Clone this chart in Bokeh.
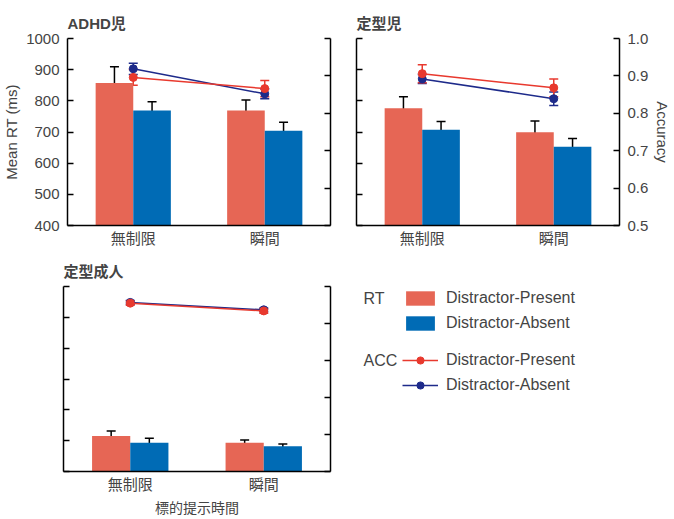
from bokeh.plotting import figure
from bokeh.models import (FactorRange, Range1d, LinearAxis, FixedTicker, Whisker,
                          ColumnDataSource, Legend, LegendItem, Label, TeeHead,
                          NumeralTickFormatter)
from bokeh.layouts import column, row
from bokeh.transform import dodge
from bokeh.embed import file_html
from bokeh.resources import INLINE

# ---------------- data ----------------
conditions = ["無制限", "瞬間"]
panels = ["ADHD児", "定型児", "定型成人"]

rt_present = [[857, 769], [776, 699], [515, 493]]
rt_present_err = [[52, 34], [37, 36], [16, 9]]
rt_absent = [[769, 704], [707, 653], [493, 482]]
rt_absent_err = [[28, 27], [27, 26], [15, 7]]

acc_present = [[0.896, 0.866], [0.906, 0.868], [0.955, 0.934]]
acc_present_err = [[0.021, 0.022], [0.024, 0.024], [0.006, 0.006]]
acc_absent = [[0.919, 0.852], [0.892, 0.839], [0.957, 0.937]]
acc_absent_err = [[0.015, 0.013], [0.012, 0.018], [0.005, 0.005]]

rt_ticks = [400, 500, 600, 700, 800, 900, 1000]
acc_ticks = [0.5, 0.6, 0.7, 0.8, 0.9, 1.0]

legend_labels = ["Distractor-Present", "Distractor-Absent"]
legend_groups = ["RT", "ACC"]

# ---------------- style ----------------
BAR_P = "#E66655"
BAR_A = "#006BB5"
ACC_P = "#E8392E"
ACC_A = "#1D2A8A"
LATIN = "Liberation Sans"
CJK = "Noto Sans CJK JP"
MIX = "Liberation Sans, Noto Sans CJK JP"
FS = "15px"


def style_axis(ax, show_labels=True):
    ax.axis_line_width = 1.5
    ax.axis_line_color = "black"
    ax.major_tick_in = 6
    ax.major_tick_out = 0
    ax.major_tick_line_width = 1.5
    ax.minor_tick_line_color = None
    ax.major_label_text_font = LATIN
    ax.major_label_text_font_size = FS
    ax.major_label_standoff = 8
    ax.axis_label_text_font = LATIN
    ax.axis_label_text_font_size = FS
    ax.axis_label_text_font_style = "normal"
    ax.axis_label_standoff = 3
    if not show_labels:
        ax.major_label_text_color = None
        ax.major_label_text_font_size = "1px"
        ax.major_label_standoff = 0


def make_panel(i, width, height, bl, br, bt, bb, left_labels, right_labels,
               left_title=None, right_title=None, x_title=None):
    p = figure(x_range=FactorRange(*conditions), y_range=Range1d(400, 1000),
               width=width, height=height, output_backend="svg",
               toolbar_location=None, title=panels[i],
               min_border_left=bl, min_border_right=br,
               min_border_top=bt, min_border_bottom=bb)
    p.x_range.range_padding = 0
    p.extra_y_ranges = {"acc": Range1d(0.5, 1.0)}
    p.grid.visible = False
    p.outline_line_color = None
    p.title.text_font = MIX
    p.title.text_font_size = FS
    p.title.text_font_style = "bold"
    p.title.align = "left"
    p.title.standoff = 14

    src = ColumnDataSource(dict(
        x=conditions,
        rp=rt_present[i], rp_up=[m + e for m, e in zip(rt_present[i], rt_present_err[i])],
        rp_lo=[m - e for m, e in zip(rt_present[i], rt_present_err[i])],
        ra=rt_absent[i], ra_up=[m + e for m, e in zip(rt_absent[i], rt_absent_err[i])],
        ra_lo=[m - e for m, e in zip(rt_absent[i], rt_absent_err[i])],
        ap=acc_present[i], ap_up=[m + e for m, e in zip(acc_present[i], acc_present_err[i])],
        ap_lo=[m - e for m, e in zip(acc_present[i], acc_present_err[i])],
        aa=acc_absent[i], aa_up=[m + e for m, e in zip(acc_absent[i], acc_absent_err[i])],
        aa_lo=[m - e for m, e in zip(acc_absent[i], acc_absent_err[i])],
    ))

    off = 0.143
    bw = 0.286
    p.vbar(x=dodge("x", -off, range=p.x_range), top="rp", bottom=0, width=bw,
           source=src, fill_color=BAR_P, line_color=None)
    p.vbar(x=dodge("x", off, range=p.x_range), top="ra", bottom=0, width=bw,
           source=src, fill_color=BAR_A, line_color=None)
    for o, up, lo in [(-off, "rp_up", "rp_lo"), (off, "ra_up", "ra_lo")]:
        p.add_layout(Whisker(source=src, base=dodge("x", o, range=p.x_range),
                             upper=up, lower=lo, line_color="black", line_width=1.5,
                             upper_head=TeeHead(size=9, line_width=1.5, line_color="black"),
                             lower_head=TeeHead(size=9, line_width=1.5, line_color="black")))

    for col, c in [("aa", ACC_A), ("ap", ACC_P)]:
        p.add_layout(Whisker(source=src, base="x", upper=col + "_up", lower=col + "_lo",
                             y_range_name="acc", line_color=c, line_width=1.5,
                             upper_head=TeeHead(size=9, line_width=1.5, line_color=c),
                             lower_head=TeeHead(size=9, line_width=1.5, line_color=c)))
        p.line(x="x", y=col, source=src, y_range_name="acc", line_color=c, line_width=1.5)
        p.scatter(x="x", y=col, source=src, y_range_name="acc", size=8,
                  fill_color=c, line_color=c)

    p.yaxis.ticker = FixedTicker(ticks=rt_ticks)
    style_axis(p.yaxis[0], left_labels)
    if left_title:
        p.yaxis.axis_label = left_title

    ra = LinearAxis(y_range_name="acc", ticker=FixedTicker(ticks=acc_ticks),
                    formatter=NumeralTickFormatter(format="0.0"))
    style_axis(ra, right_labels)
    if right_title:
        ra.axis_label = right_title
    p.add_layout(ra, "right")

    xa = p.xaxis[0]
    style_axis(xa, True)
    xa.major_tick_line_color = None
    xa.major_label_text_font = CJK
    xa.major_label_standoff = 1
    if x_title:
        xa.axis_label = x_title
        xa.axis_label_text_font = CJK
        xa.axis_label_text_font_size = "14px"
        xa.axis_label_standoff = 0
    return p


TOP1, BOT1 = 38, 26
H1 = TOP1 + 187 + BOT1          # 251
TOP2, BOT2 = 35, 47
H2 = 519 - H1                   # 268

p1 = make_panel(0, 340, H1, 63, 10, TOP1, BOT1, True, False, left_title="Mean RT (ms)")
p2 = make_panel(1, 334, H1, 16, 50, TOP1, BOT1, False, True, right_title="Accuracy")
p3 = make_panel(2, 340, H2, 63, 10, TOP2, BOT2, False, False, x_title="標的提示時間")

# ---------------- legend panel ----------------
FH = H2 - TOP2 - BOT2            # frame height of the legend panel (pixels)
p4 = figure(width=334, height=H2, x_range=Range1d(0, 334), y_range=Range1d(0, FH),
            output_backend="svg", toolbar_location=None,
            x_axis_type=None, y_axis_type=None,
            min_border_left=0, min_border_right=0,
            min_border_top=TOP2, min_border_bottom=BOT2)
p4.grid.visible = False
p4.outline_line_color = None
nan = float("nan")
rb1 = p4.vbar(x=[nan], top=[nan], width=1, fill_color=BAR_P, line_color=None)
rb2 = p4.vbar(x=[nan], top=[nan], width=1, fill_color=BAR_A, line_color=None)
rl1 = p4.line(x=[nan], y=[nan], line_color=ACC_P, line_width=1.5)
rs1 = p4.scatter(x=[nan], y=[nan], size=9, fill_color=ACC_P, line_color=ACC_P)
rl2 = p4.line(x=[nan], y=[nan], line_color=ACC_A, line_width=1.5)
rs2 = p4.scatter(x=[nan], y=[nan], size=9, fill_color=ACC_A, line_color=ACC_A)


def make_legend(items, loc):
    return Legend(items=items, location=loc, padding=0, margin=0, spacing=5,
                  glyph_width=36, glyph_height=18, label_height=20, label_standoff=8,
                  label_text_font=LATIN, label_text_font_size="16px",
                  border_line_color=None, background_fill_alpha=0)


# frame bottom is at page y = H1 + TOP2 + FH
FB = H1 + TOP2 + FH
p4.add_layout(make_legend([LegendItem(label=legend_labels[0], renderers=[rb1]),
                           LegendItem(label=legend_labels[1], renderers=[rb2])],
                          (62, FB - 334)))
p4.add_layout(make_legend([LegendItem(label=legend_labels[0], renderers=[rl1, rs1]),
                           LegendItem(label=legend_labels[1], renderers=[rl2, rs2])],
                          (62, FB - 396)))
for txt, y in zip(legend_groups, [FB - 298, FB - 360]):
    p4.add_layout(Label(x=23, y=y, text=txt, text_baseline="middle",
                        text_font=LATIN, text_font_size="16px"))

layout = column(row(p1, p2), row(p3, p4))
open("out.html", "w").write(file_html(layout, INLINE))
